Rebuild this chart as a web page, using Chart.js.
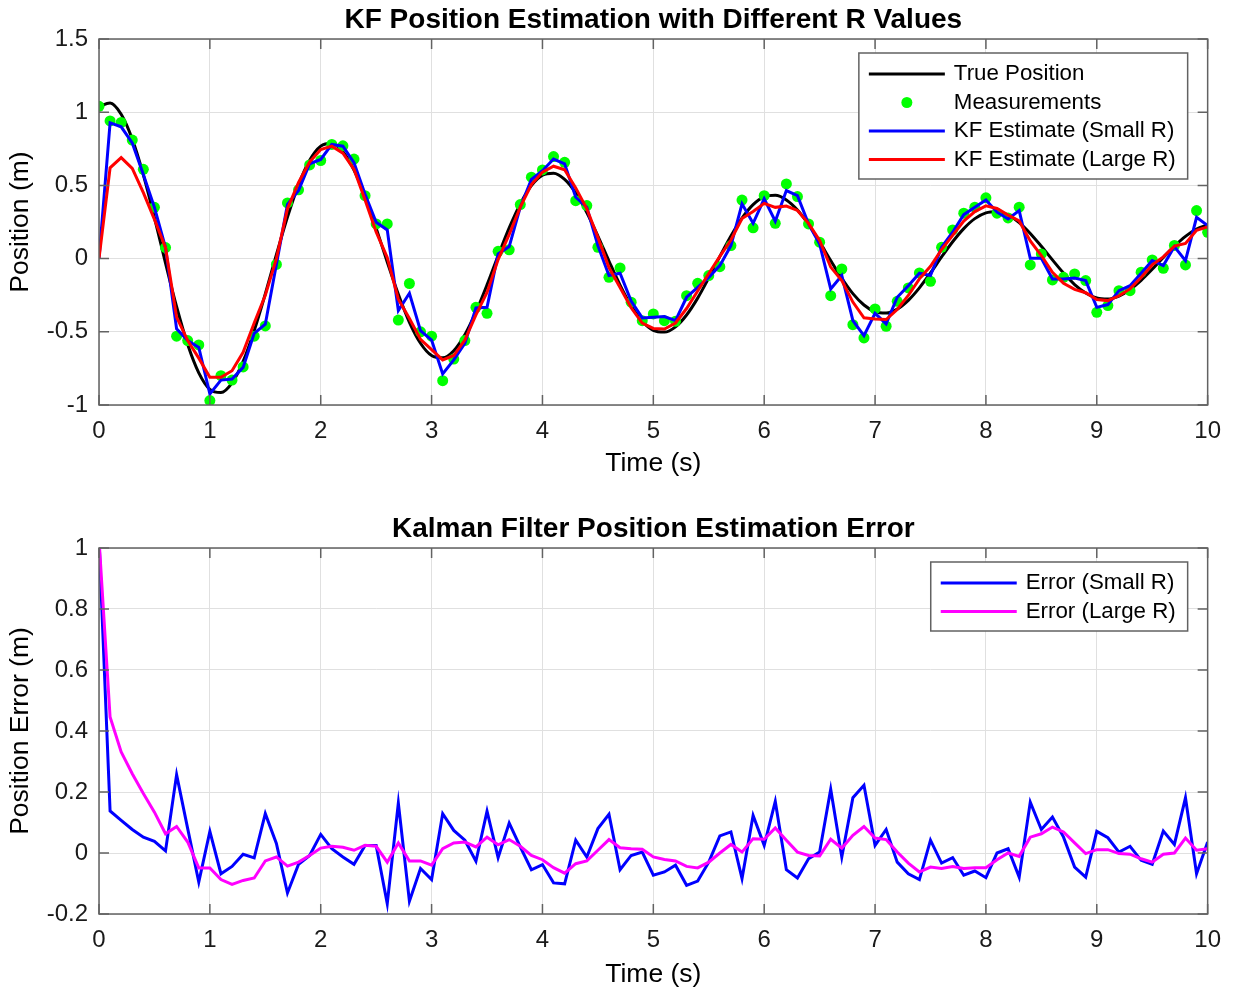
<!DOCTYPE html>
<html>
<head>
<meta charset="utf-8">
<title>KF Position Estimation</title>
<script src="https://cdn.jsdelivr.net/npm/chart.js@4.4.1/dist/chart.umd.min.js"></script>
<style>
  html, body { margin: 0; padding: 0; background: #fff; }
  #wrap { position: relative; width: 1233px; height: 992px; }
  canvas { position: absolute; left: 0; }
  #topChart { top: 0; }
  #errChart { top: 496px; }
</style>
</head>
<body>
<div id="wrap">
  <canvas id="topChart" width="1233" height="496"></canvas>
  <canvas id="errChart" width="1233" height="496"></canvas>
</div>
<script>
// time axis (s)
const timeS = [
  0, 0.1, 0.2, 0.3, 0.4, 0.5, 0.6, 0.7, 0.8, 0.9,
  1, 1.1, 1.2, 1.3, 1.4, 1.5, 1.6, 1.7, 1.8, 1.9,
  2, 2.1, 2.2, 2.3, 2.4, 2.5, 2.6, 2.7, 2.8, 2.9,
  3, 3.1, 3.2, 3.3, 3.4, 3.5, 3.6, 3.7, 3.8, 3.9,
  4, 4.1, 4.2, 4.3, 4.4, 4.5, 4.6, 4.7, 4.8, 4.9,
  5, 5.1, 5.2, 5.3, 5.4, 5.5, 5.6, 5.7, 5.8, 5.9,
  6, 6.1, 6.2, 6.3, 6.4, 6.5, 6.6, 6.7, 6.8, 6.9,
  7, 7.1, 7.2, 7.3, 7.4, 7.5, 7.6, 7.7, 7.8, 7.9,
  8, 8.1, 8.2, 8.3, 8.4, 8.5, 8.6, 8.7, 8.8, 8.9,
  9, 9.1, 9.2, 9.3, 9.4, 9.5, 9.6, 9.7, 9.8, 9.9,
  10
];

const truePos = [
  1.037, 1.063, 0.986, 0.816, 0.572, 0.280, -0.031, -0.329, -0.587, -0.780,
  -0.893, -0.915, -0.849, -0.702, -0.492, -0.241, 0.027, 0.283, 0.505, 0.672,
  0.768, 0.788, 0.730, 0.605, 0.424, 0.207, -0.023, -0.244, -0.435, -0.578,
  -0.662, -0.678, -0.629, -0.520, -0.364, -0.179, 0.020, 0.210, 0.374, 0.498,
  0.569, 0.583, 0.541, 0.448, 0.314, 0.154, -0.017, -0.181, -0.322, -0.428,
  -0.490, -0.502, -0.466, -0.385, -0.270, -0.132, 0.015, 0.155, 0.277, 0.369,
  0.422, 0.432, 0.401, 0.332, 0.233, 0.114, -0.013, -0.134, -0.239, -0.317,
  -0.363, -0.372, -0.345, -0.285, -0.200, -0.098, 0.011, 0.115, 0.205, 0.273,
  0.312, 0.320, 0.297, 0.246, 0.172, 0.084, -0.009, -0.099, -0.177, -0.235,
  -0.269, -0.276, -0.256, -0.211, -0.148, -0.073, 0.008, 0.085, 0.152, 0.202,
  0.231
];

const measurements = [
  1.04, 0.94, 0.93, 0.81, 0.61, 0.35, 0.075, -0.53, -0.56, -0.59,
  -0.97, -0.80, -0.83, -0.74, -0.53, -0.46, -0.04, 0.38, 0.47, 0.64,
  0.67, 0.78, 0.77, 0.68, 0.43, 0.237, 0.237, -0.42, -0.17, -0.50,
  -0.53, -0.834, -0.686, -0.56, -0.333, -0.374, 0.05, 0.06, 0.369, 0.556,
  0.606, 0.697, 0.658, 0.396, 0.362, 0.077, -0.128, -0.064, -0.298, -0.424,
  -0.378, -0.424, -0.428, -0.253, -0.169, -0.116, -0.055, 0.089, 0.40, 0.21,
  0.43, 0.241, 0.51, 0.424, 0.237, 0.112, -0.253, -0.071, -0.451, -0.542,
  -0.344, -0.462, -0.292, -0.20, -0.098, -0.155, 0.077, 0.196, 0.31, 0.351,
  0.415, 0.31, 0.278, 0.351, -0.043, 0.032, -0.146, -0.128, -0.105, -0.15,
  -0.367, -0.321, -0.219, -0.219, -0.093, -0.009, -0.066, 0.09, -0.043, 0.328,
  0.18
];

const kfSmallR = [
  0, 0.927, 0.90, 0.79, 0.575, 0.35, 0.075, -0.48, -0.56, -0.607,
  -0.925, -0.83, -0.823, -0.743, -0.51, -0.448, -0.04, 0.37, 0.466, 0.648,
  0.677, 0.78, 0.768, 0.655, 0.44, 0.248, 0.196, -0.355, -0.237, -0.492,
  -0.556, -0.788, -0.692, -0.579, -0.337, -0.333, 0.032, 0.082, 0.351, 0.54,
  0.60, 0.68, 0.647, 0.419, 0.351, 0.089, -0.116, -0.10, -0.29, -0.405,
  -0.40, -0.396, -0.424, -0.264, -0.196, -0.128, -0.048, 0.089, 0.374, 0.241,
  0.408, 0.255, 0.465, 0.43, 0.237, 0.10, -0.207, -0.116, -0.424, -0.526,
  -0.374, -0.446, -0.264, -0.185, -0.10, -0.116, 0.077, 0.18, 0.30, 0.351,
  0.40, 0.317, 0.271, 0.328, 0.002, 0.002, -0.139, -0.139, -0.132, -0.15,
  -0.333, -0.314, -0.219, -0.185, -0.10, -0.014, -0.048, 0.082, -0.014, 0.282,
  0.225
];

const kfLargeR = [
  0, 0.62, 0.69, 0.616, 0.45, 0.268, 0.075, -0.40, -0.56, -0.68,
  -0.81, -0.81, -0.766, -0.64, -0.44, -0.25, 0.0, 0.34, 0.52, 0.66,
  0.745, 0.768, 0.72, 0.61, 0.40, 0.182, 0.007, -0.277, -0.409, -0.552,
  -0.622, -0.692, -0.662, -0.556, -0.384, -0.231, -0.007, 0.166, 0.352, 0.506,
  0.591, 0.631, 0.607, 0.483, 0.340, 0.145, -0.061, -0.198, -0.336, -0.440,
  -0.477, -0.481, -0.440, -0.341, -0.221, -0.102, 0.015, 0.127, 0.274, 0.322,
  0.377, 0.350, 0.359, 0.329, 0.241, 0.124, -0.058, -0.150, -0.297, -0.404,
  -0.412, -0.416, -0.348, -0.252, -0.138, -0.052, 0.062, 0.159, 0.256, 0.321,
  0.360, 0.342, 0.297, 0.257, 0.120, 0.021, -0.094, -0.168, -0.210, -0.233,
  -0.280, -0.287, -0.254, -0.207, -0.129, -0.043, 0.012, 0.085, 0.103, 0.193,
  0.217
];

const errSmallR = [
  1.03, 0.138, 0.107, 0.077, 0.052, 0.038, 0.007, 0.257, 0.08, -0.095,
  0.071, -0.068, -0.044, -0.004, -0.016, 0.129, 0.031, -0.131, -0.037, -0.008,
  0.061, 0.014, -0.013, -0.037, 0.025, 0.025, -0.166, 0.164, -0.158, -0.051,
  -0.087, 0.129, 0.074, 0.042, -0.027, 0.137, -0.015, 0.098, 0.020, -0.055,
  -0.038, -0.098, -0.101, 0.042, -0.013, 0.080, 0.127, -0.055, -0.008, 0.003,
  -0.073, -0.062, -0.040, -0.106, -0.092, -0.030, 0.056, 0.069, -0.084, 0.123,
  0.025, 0.169, -0.055, -0.082, -0.019, 0.003, 0.209, -0.013, 0.181, 0.222,
  0.025, 0.077, -0.030, -0.068, -0.087, 0.042, -0.033, -0.015, -0.073, -0.059,
  -0.081, 0.000, 0.014, -0.079, 0.167, 0.077, 0.118, 0.052, -0.046, -0.079,
  0.071, 0.050, 0.003, 0.022, -0.024, -0.037, 0.072, 0.028, 0.181, -0.068,
  0.036
];

const errLargeR = [
  1.03, 0.446, 0.331, 0.260, 0.195, 0.134, 0.063, 0.087, 0.036, -0.049,
  -0.049, -0.087, -0.103, -0.090, -0.082, -0.026, -0.013, -0.043, -0.030, -0.008,
  0.016, 0.022, 0.019, 0.009, 0.025, 0.022, -0.030, 0.033, -0.026, -0.026,
  -0.040, 0.014, 0.033, 0.036, 0.020, 0.052, 0.027, 0.044, 0.022, -0.008,
  -0.022, -0.048, -0.066, -0.035, -0.026, 0.009, 0.044, 0.017, 0.014, 0.012,
  -0.013, -0.021, -0.026, -0.044, -0.049, -0.030, 0.000, 0.028, 0.003, 0.047,
  0.045, 0.082, 0.042, 0.003, -0.008, -0.010, 0.045, 0.016, 0.058, 0.087,
  0.049, 0.044, 0.003, -0.033, -0.062, -0.046, -0.051, -0.044, -0.051, -0.048,
  -0.048, -0.022, 0.000, -0.011, 0.052, 0.063, 0.085, 0.069, 0.033, -0.002,
  0.011, 0.011, -0.002, -0.004, -0.019, -0.030, -0.004, 0.000, 0.049, 0.009,
  0.014
];

const xTicks = [0, 1, 2, 3, 4, 5, 6, 7, 8, 9, 10];
const yTicksPos = [-1, -0.5, 0, 0.5, 1, 1.5];
const yTicksErr = [-0.2, 0, 0.2, 0.4, 0.6, 0.8, 1];

const FONT = "'Liberation Sans', Arial, Helvetica, sans-serif";
Chart.defaults.font.family = FONT;
Chart.defaults.color = '#1a1a1a';

function pts(ys) {
  return ys.map((y, i) => ({ x: timeS[i], y: y }));
}

// white background, MATLAB-like box, inward ticks, title and legend
const matlabAxes = {
  id: 'matlabAxes',
  beforeDraw(chart) {
    const ctx = chart.ctx;
    ctx.save();
    ctx.fillStyle = '#fff';
    ctx.fillRect(0, 0, chart.width, chart.height);
    ctx.restore();
  },
  afterDraw(chart, args, opts) {
    const { ctx, chartArea: a, scales } = chart;
    ctx.save();
    ctx.strokeStyle = '#626262';
    ctx.lineWidth = 1.5;
    ctx.strokeRect(a.left, a.top, a.right - a.left, a.bottom - a.top);

    const tl = 10;
    ctx.beginPath();
    scales.x.ticks.forEach(t => {
      const px = scales.x.getPixelForValue(t.value);
      ctx.moveTo(px, a.bottom); ctx.lineTo(px, a.bottom - tl);
      ctx.moveTo(px, a.top); ctx.lineTo(px, a.top + tl);
    });
    scales.y.ticks.forEach(t => {
      const py = scales.y.getPixelForValue(t.value);
      ctx.moveTo(a.left, py); ctx.lineTo(a.left + tl, py);
      ctx.moveTo(a.right, py); ctx.lineTo(a.right - tl, py);
    });
    ctx.stroke();

    // title
    ctx.fillStyle = '#000';
    ctx.font = 'bold 28px ' + FONT;
    ctx.textAlign = 'center';
    ctx.textBaseline = 'middle';
    ctx.fillText(opts.title, (a.left + a.right) / 2, a.top - 19);

    // legend (upper right, inside the axes)
    const items = chart.data.datasets;
    ctx.font = '22.3px ' + FONT;
    const textW = Math.max(...items.map(d => ctx.measureText(d.label).width));
    const boxW = 95 + textW + 12;
    const rowH = 28.5;
    const boxH = 21 + (items.length - 1) * rowH + 19.5;
    const bx = a.right - 20 - boxW;
    const by = a.top + 14;
    ctx.fillStyle = '#fff';
    ctx.fillRect(bx, by, boxW, boxH);
    ctx.strokeStyle = '#626262';
    ctx.lineWidth = 1.5;
    ctx.strokeRect(bx, by, boxW, boxH);
    items.forEach((d, i) => {
      const cy = by + 21 + i * rowH;
      if (d.showLine === false) {
        ctx.fillStyle = d.pointBackgroundColor;
        ctx.beginPath();
        ctx.arc(bx + 48, cy, 5.5, 0, Math.PI * 2);
        ctx.fill();
      } else {
        ctx.strokeStyle = d.borderColor;
        ctx.lineWidth = 3;
        ctx.beginPath();
        ctx.moveTo(bx + 10, cy);
        ctx.lineTo(bx + 86, cy);
        ctx.stroke();
      }
      ctx.fillStyle = '#000';
      ctx.textAlign = 'left';
      ctx.textBaseline = 'middle';
      ctx.fillText(d.label, bx + 95, cy);
    });
    ctx.restore();
  }
};

function scalesFor(yMin, yMax, yTicks, yTitle, xHeight, xTitlePad) {
  return {
    x: {
      type: 'linear',
      min: 0,
      max: 10,
      afterBuildTicks: s => { s.ticks = xTicks.map(v => ({ value: v })); },
      afterFit: s => { s.height = xHeight; },
      ticks: { font: { size: 24 }, padding: 12, maxRotation: 0, autoSkip: false,
               callback: v => String(v) },
      grid: { color: '#e0e0e0', lineWidth: 1, drawTicks: false },
      border: { display: false },
      title: { display: true, text: 'Time (s)', font: { size: 26.5 }, color: '#000',
               padding: { top: 0, bottom: xTitlePad } }
    },
    y: {
      type: 'linear',
      min: yMin,
      max: yMax,
      afterBuildTicks: s => { s.ticks = yTicks.map(v => ({ value: v })); },
      afterFit: s => { s.width = 99; },
      ticks: { font: { size: 24 }, padding: 11, autoSkip: false,
               callback: v => String(v) },
      grid: { color: '#e0e0e0', lineWidth: 1, drawTicks: false },
      border: { display: false },
      title: { display: true, text: yTitle, font: { size: 26.5 }, color: '#000',
               padding: { top: 5, bottom: 0 } }
    }
  };
}

new Chart(document.getElementById('topChart'), {
  type: 'line',
  data: {
    datasets: [
      { label: 'True Position', data: pts(truePos), borderColor: '#000000',
        borderWidth: 3, pointRadius: 0, cubicInterpolationMode: 'monotone', order: 4 },
      { label: 'Measurements', data: pts(measurements), showLine: false,
        pointRadius: 5.5, pointBackgroundColor: '#00ff00', pointBorderWidth: 0,
        borderColor: '#00ff00', order: 3 },
      { label: 'KF Estimate (Small R)', data: pts(kfSmallR), borderColor: '#0000ff',
        borderWidth: 3, pointRadius: 0, tension: 0, order: 2 },
      { label: 'KF Estimate (Large R)', data: pts(kfLargeR), borderColor: '#ff0000',
        borderWidth: 3, pointRadius: 0, tension: 0, order: 1 }
    ]
  },
  options: {
    responsive: false,
    animation: false,
    devicePixelRatio: 1,
    layout: { padding: { left: 0, right: 23, top: 39, bottom: 0 } },
    scales: scalesFor(-1, 1.5, yTicksPos, 'Position (m)', 91, 16),
    plugins: {
      legend: { display: false },
      tooltip: { enabled: false },
      matlabAxes: { title: 'KF Position Estimation with Different R Values' }
    }
  },
  plugins: [matlabAxes]
});

new Chart(document.getElementById('errChart'), {
  type: 'line',
  data: {
    datasets: [
      { label: 'Error (Small R)', data: pts(errSmallR), borderColor: '#0000ff',
        borderWidth: 3, pointRadius: 0, tension: 0, order: 2 },
      { label: 'Error (Large R)', data: pts(errLargeR), borderColor: '#ff00ff',
        borderWidth: 3, pointRadius: 0, tension: 0, order: 1 }
    ]
  },
  options: {
    responsive: false,
    animation: false,
    devicePixelRatio: 1,
    layout: { padding: { left: 0, right: 23, top: 52, bottom: 0 } },
    scales: scalesFor(-0.2, 1, yTicksErr, 'Position Error (m)', 78, 1),
    plugins: {
      legend: { display: false },
      tooltip: { enabled: false },
      matlabAxes: { title: 'Kalman Filter Position Estimation Error' }
    }
  },
  plugins: [matlabAxes]
});
</script>
</body>
</html>
